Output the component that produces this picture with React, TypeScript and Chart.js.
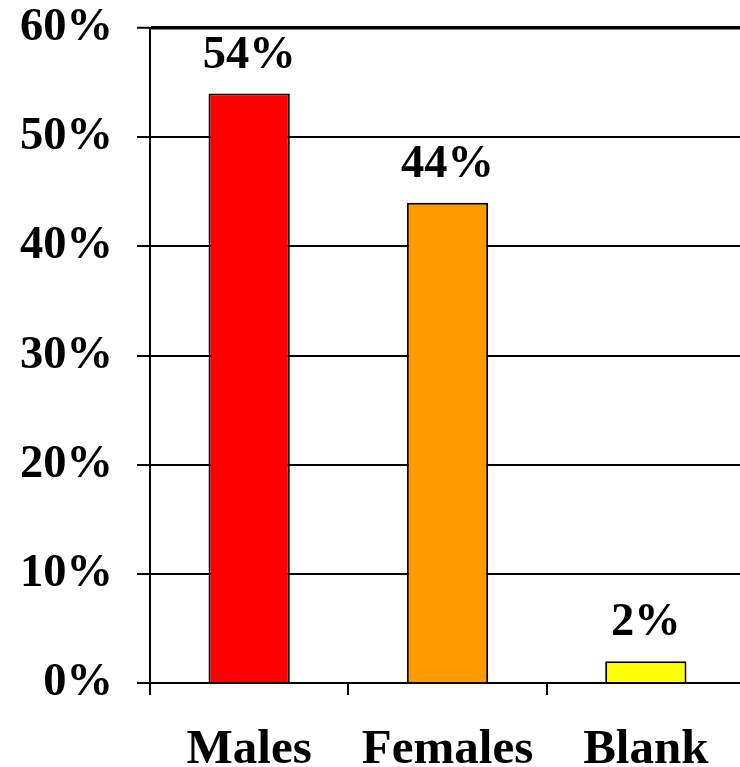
import React, { useEffect, useRef } from "react";
import { Chart, registerables } from "chart.js";

Chart.register(...registerables);

const categories = ["Males", "Females", "Blank"];
const values = [54, 44, 2];
const barColors = ["#FF0000", "#FF9900", "#FFFF00"];
const yTicks = [0, 10, 20, 30, 40, 50, 60];

const FONT = '"Liberation Serif", "Times New Roman", serif';

export default function App() {
  const ref = useRef<HTMLCanvasElement>(null);

  useEffect(() => {
    document.body.style.margin = "0";
    const labelPlugin = {
      id: "valueLabels",
      afterDatasetsDraw(chart: any) {
        const ctx = chart.ctx;
        const meta = chart.getDatasetMeta(0);
        ctx.save();
        ctx.font = `bold 46.5px ${FONT}`;
        ctx.fillStyle = "#000";
        ctx.textAlign = "center";
        ctx.textBaseline = "alphabetic";
        meta.data.forEach((bar: any, i: number) => {
          ctx.fillText(`${values[i]}%`, bar.x, bar.y - 26);
        });
        ctx.restore();
      },
    };

    const chart = new Chart(ref.current as HTMLCanvasElement, {
      type: "bar",
      data: {
        labels: categories,
        datasets: [
          {
            data: values,
            backgroundColor: barColors,
            borderColor: "#000",
            borderWidth: 2,
            barPercentage: 0.41,
            categoryPercentage: 1,
          },
        ],
      },
      options: {
        animation: false,
        responsive: false,
        maintainAspectRatio: false,
        layout: { padding: { top: 28, right: 0, left: 0, bottom: 0 } },
        plugins: { legend: { display: false }, tooltip: { enabled: false } },
        scales: {
          x: {
            grid: {
              offset: true,
              drawOnChartArea: false,
              drawTicks: true,
              tickLength: 12,
              color: "#000",
              lineWidth: 2,
            },
            border: { display: true, color: "#000", width: 2 },
            ticks: {
              font: { family: FONT, size: 49, weight: "bold", lineHeight: 0.8 },
              color: "#000",
              padding: 36,
              maxRotation: 0,
              autoSkip: false,
            },
            afterFit: (s: any) => {
              s.height = 84;
            },
          },
          y: {
            min: 0,
            max: 60,
            afterBuildTicks: (s: any) => {
              s.ticks = yTicks.map((v) => ({ value: v }));
            },
            ticks: {
              callback: (v: any) => v + "%",
              font: { family: FONT, size: 46.5, weight: "bold", lineHeight: 0.2 },
              color: "#000",
              padding: 24,
            },
            grid: {
              color: "#000",
              lineWidth: (c: any) => (c.tick && c.tick.value === 60 ? 3.5 : 2),
              tickWidth: 2,
              tickLength: 13,
              drawTicks: true,
            },
            border: { display: true, color: "#000", width: 2 },
            afterFit: (s: any) => {
              s.width = 150;
              s.paddingTop = 0;
              s.paddingBottom = 0;
            },
          },
        },
      },
      plugins: [labelPlugin],
    } as any);

    return () => chart.destroy();
  }, []);

  return (
    <div style={{ width: 740, height: 767, overflow: "hidden" }}>
      <canvas ref={ref} width={745} height={767} style={{ display: "block" }} />
    </div>
  );
}
